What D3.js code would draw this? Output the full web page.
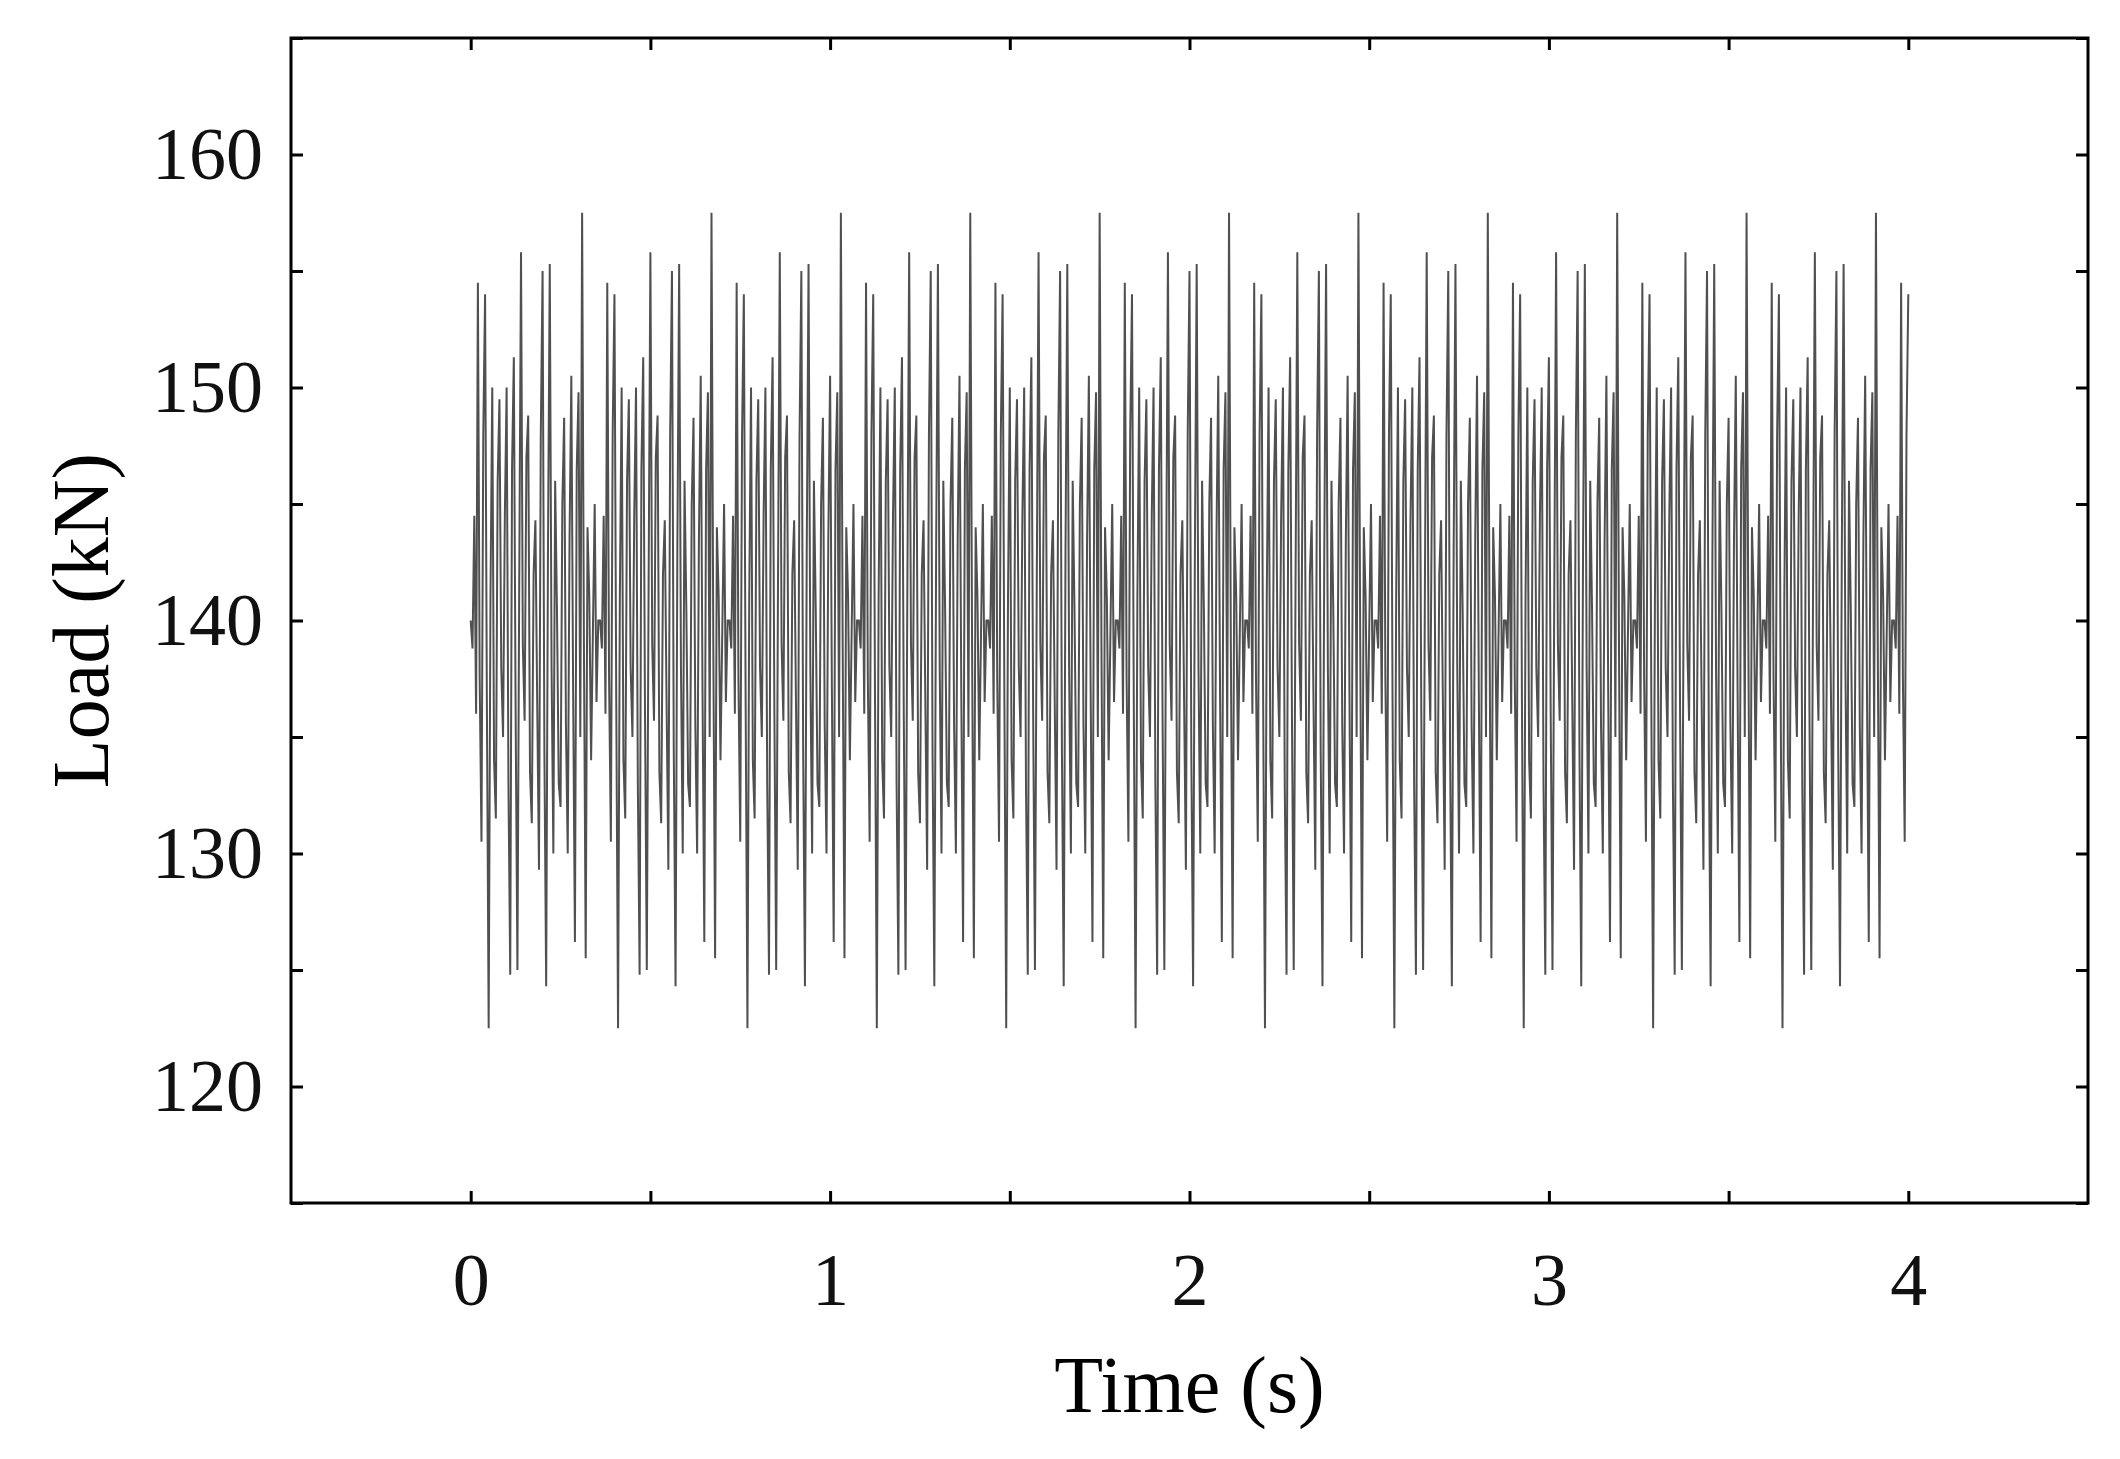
<!DOCTYPE html>
<html>
<head>
<meta charset="utf-8">
<script src="https://cdn.jsdelivr.net/npm/d3@7"></script>
<style>
body { margin: 0; background: #fff; }
text { font-family: "Liberation Serif", "DejaVu Serif", serif; }
</style>
</head>
<body>
<div id="viz-container"></div>
<script>
const cycleLoad = [140, 138.8, 144.5, 136, 154.5, 137.5, 130.5, 148, 154, 136.5,
                   122.5, 141, 150, 134, 131.5, 146, 149.5, 138, 135, 144.5,
                   150, 133, 124.8, 146.5, 151.3, 136, 125, 141.5, 155.8, 139,
                   135.7, 147, 148.8, 133.5, 131.3, 142, 144.3, 136.5, 129.3, 148,
                   155, 134.5, 124.3, 143, 155.3, 138, 130, 146, 140.5, 133,
                   132, 145, 148.7, 135.5, 130, 143.5, 150.5, 137, 126.2, 146.5,
                   149.8, 135, 157.5, 139, 125.5, 144, 141, 134, 139.5, 145,
                   136.5, 140];
const sampleStep = 0.005;
const tEnd = 4.0;
const xTicks = [0, 1, 2, 3, 4];
const yTicks = [120, 130, 140, 150, 160];

const data = [];
for (let i = 0; i * sampleStep <= tEnd + 1e-9; i++) {
    data.push({ t: i * sampleStep, load: cycleLoad[i % cycleLoad.length] });
}

const W = 2120, H = 1459;
const margin = { left: 291, right: 2088, top: 38, bottom: 1203 };

const viz = d3.select('#viz-container')
    .append('svg')
    .attr('width', W)
    .attr('height', H);

const x = d3.scaleLinear().domain([-0.5, 4.5]).range([margin.left, margin.right]);
const y = d3.scaleLinear().domain([115, 165]).range([margin.bottom, margin.top]);

viz.append('path')
    .datum(data)
    .attr('fill', 'none')
    .attr('stroke', '#505050')
    .attr('stroke-width', 2)
    .attr('d', d3.line().x(d => x(d.t)).y(d => y(d.load)));

const minorX = d3.range(0, 4.01, 0.5);
const minorY = d3.range(115, 165.1, 5);

const styleAxis = (g) => {
    g.selectAll('.domain').remove();
    g.selectAll('line').attr('stroke', '#000').attr('stroke-width', 3);
    g.selectAll('text').attr('font-size', 74).attr('fill', '#111');
};

viz.append('g')
    .attr('transform', `translate(0,${margin.bottom})`)
    .call(d3.axisBottom(x).tickValues(minorX).tickSize(-12).tickFormat(d => xTicks.includes(d) ? d : ''))
    .call(styleAxis)
    .selectAll('text').attr('dy', '1em').attr('y', 28);
viz.append('g')
    .attr('transform', `translate(0,${margin.top})`)
    .call(d3.axisTop(x).tickValues(minorX).tickSize(-12).tickFormat(''))
    .call(styleAxis);
viz.append('g')
    .attr('transform', `translate(${margin.left},0)`)
    .call(d3.axisLeft(y).tickValues(minorY).tickSize(-12).tickFormat(d => yTicks.includes(d) ? d : ''))
    .call(styleAxis)
    .selectAll('text').attr('x', -28);
viz.append('g')
    .attr('transform', `translate(${margin.right},0)`)
    .call(d3.axisRight(y).tickValues(minorY).tickSize(-12).tickFormat(''))
    .call(styleAxis);

viz.append('rect')
    .attr('x', margin.left).attr('y', margin.top)
    .attr('width', margin.right - margin.left).attr('height', margin.bottom - margin.top)
    .attr('fill', 'none').attr('stroke', '#000').attr('stroke-width', 3);

viz.append('text')
    .attr('x', (margin.left + margin.right) / 2).attr('y', 1412)
    .attr('text-anchor', 'middle').attr('font-size', 80)
    .text('Time (s)');
viz.append('text')
    .attr('transform', `translate(108,${(margin.top + margin.bottom) / 2}) rotate(-90)`)
    .attr('text-anchor', 'middle').attr('font-size', 80)
    .text('Load (kN)');
</script>
</body>
</html>
